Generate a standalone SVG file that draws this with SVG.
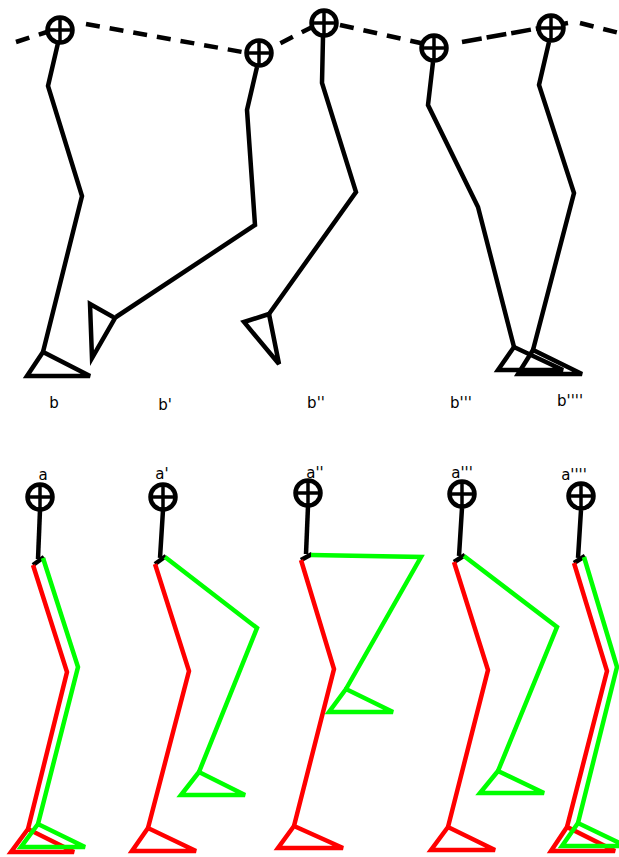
<svg xmlns="http://www.w3.org/2000/svg" xmlns:xlink="http://www.w3.org/1999/xlink" width="619" height="857" viewBox="0 0 619 857">
  <style>
    .bone { fill: none; stroke: #000; stroke-width: 4.5; stroke-linejoin: miter; }
    .red { fill: none; stroke: #ff0000; stroke-width: 4.5; stroke-linejoin: miter; }
    .green { fill: none; stroke: #00ff00; stroke-width: 4.5; stroke-linejoin: miter; }
    .dash { fill: none; stroke: #000; stroke-width: 4.5; stroke-dasharray: 14 10; }
    .dash-long { fill: none; stroke: #000; stroke-width: 4.5; stroke-dasharray: 20 5; }
    .label { font-family: "DejaVu Sans", sans-serif; font-size: 15px; fill: #000; text-anchor: middle; }
  </style>
  <defs>
    <!-- hip joint marker: ringed cross -->
    <g id="hip">
      <circle r="12.5" fill="#fff" stroke="#000" stroke-width="4.5"/>
      <line x1="0" y1="-12.5" x2="0" y2="12.5" stroke="#000" stroke-width="3.5"/>
      <line x1="-12.5" y1="0" x2="12.5" y2="0" stroke="#000" stroke-width="3.5"/>
    </g>
  </defs>
  <rect width="619" height="857" fill="#fff"/>

  <!-- hip trajectory -->
  <g id="connectors">
    <line class="dash" x1="16" y1="42" x2="50" y2="31"/>
    <line class="dash" x1="86" y1="24" x2="259" y2="55"/>
    <line class="dash" x1="259" y1="54" x2="324" y2="21"/>
    <line class="dash" x1="340" y1="25" x2="434" y2="46"/>
    <line class="dash-long" x1="462" y1="42" x2="568" y2="23"/>
    <line class="dash" x1="580" y1="23" x2="619" y2="33"/>
  </g>

  <!-- upper row: single leg phases -->
  <g id="leg-b">
    <polyline class="bone" points="58,43 48,86 82,196 43,352"/>
    <polygon class="bone" points="43,352 27,376 90,376"/>
    <use xlink:href="#hip" x="60" y="30"/>
    <text class="label" x="54" y="408">b</text>
  </g>
  <g id="leg-b1">
    <polyline class="bone" points="257,67 247,110 255,225 116,317"/>
    <polygon class="bone" points="90,304 115,318 92,358"/>
    <use xlink:href="#hip" x="259" y="53"/>
    <text class="label" x="165" y="410">b'</text>
  </g>
  <g id="leg-b2">
    <polyline class="bone" points="323,37 322,83 356,192 269,314"/>
    <polygon class="bone" points="269,314 244,322 279,364"/>
    <use xlink:href="#hip" x="324" y="23"/>
    <text class="label" x="316" y="408">b''</text>
  </g>
  <g id="leg-b3">
    <polyline class="bone" points="433,62 428,105 478,207 514,347"/>
    <polygon class="bone" points="514,347 498,370 563,370"/>
    <use xlink:href="#hip" x="434" y="48"/>
    <text class="label" x="461" y="408">b'''</text>
  </g>
  <g id="leg-b4">
    <polyline class="bone" points="549,42 539,85 574,193 533,350"/>
    <polygon class="bone" points="533,350 518,374 582,374"/>
    <use xlink:href="#hip" x="551" y="28"/>
    <text class="label" x="570" y="406">b''''</text>
  </g>

  <!-- lower row: both legs, red and green -->
  <g id="pair-a">
    <text class="label" x="43" y="480">a</text>
    <use xlink:href="#hip" x="40" y="497"/>
    <line class="bone" x1="40" y1="510" x2="38" y2="559"/>
    <line class="bone" x1="33" y1="565" x2="44" y2="557"/>
    <polyline class="red" points="33,565 67,672 28,829"/>
    <polygon class="red" points="28,829 11,852 74,852"/>
    <polyline class="green" points="43,558 78,667 38,824"/>
    <polygon class="green" points="38,824 21,847 85,847"/>
  </g>
  <g id="pair-a1">
    <text class="label" x="162" y="479">a'</text>
    <use xlink:href="#hip" x="163" y="497"/>
    <line class="bone" x1="163" y1="510" x2="160" y2="558"/>
    <line class="bone" x1="155" y1="564" x2="166" y2="556"/>
    <polyline class="red" points="155,564 189,671 148,828"/>
    <polygon class="red" points="148,828 132,851 196,851"/>
    <polyline class="green" points="165,557 257,628 199,772"/>
    <polygon class="green" points="199,772 181,795 245,795"/>
  </g>
  <g id="pair-a2">
    <text class="label" x="315" y="478">a''</text>
    <use xlink:href="#hip" x="308" y="493"/>
    <line class="bone" x1="308" y1="506" x2="306" y2="554"/>
    <line class="bone" x1="301" y1="560" x2="312" y2="554"/>
    <polyline class="red" points="301,560 334,669 294,826"/>
    <polygon class="red" points="294,826 278,848 343,848"/>
    <polyline class="green" points="311,555 421,557 346,689"/>
    <polygon class="green" points="346,689 329,712 393,712"/>
  </g>
  <g id="pair-a3">
    <text class="label" x="462" y="478">a'''</text>
    <use xlink:href="#hip" x="462" y="494"/>
    <line class="bone" x1="462" y1="508" x2="459" y2="556"/>
    <line class="bone" x1="454" y1="562" x2="465" y2="555"/>
    <polyline class="red" points="454,562 488,670 448,827"/>
    <polygon class="red" points="448,827 431,850 495,850"/>
    <polyline class="green" points="464,556 557,627 498,771"/>
    <polygon class="green" points="498,771 480,793 544,793"/>
  </g>
  <g id="pair-a4">
    <text class="label" x="574" y="480">a''''</text>
    <use xlink:href="#hip" x="581" y="496"/>
    <line class="bone" x1="581" y1="510" x2="578" y2="558"/>
    <line class="bone" x1="574" y1="563" x2="585" y2="556"/>
    <polyline class="red" points="574,563 607,671 567,827"/>
    <polygon class="red" points="567,827 551,851 615,851"/>
    <polyline class="green" points="584,557 617,667 578,823"/>
    <polygon class="green" points="578,823 562,846 626,846"/>
  </g>
</svg>
